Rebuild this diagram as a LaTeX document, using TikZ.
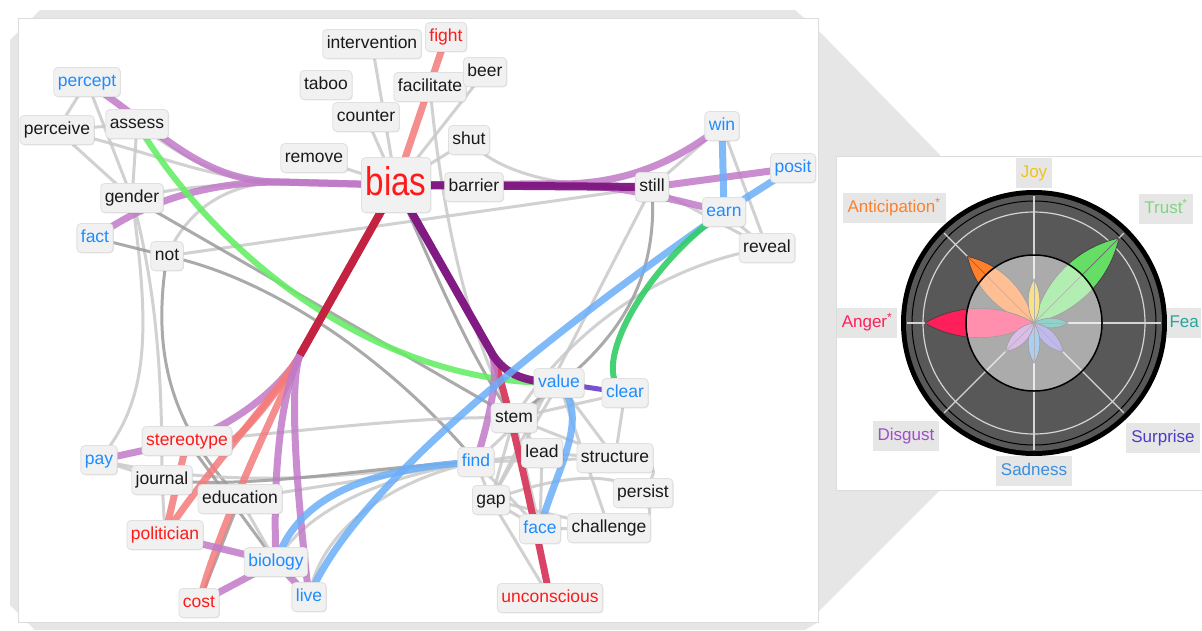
\documentclass[tikz,border=0pt]{standalone}
\usepackage{fontspec}
\usepackage{graphicx}
\setmainfont{Liberation Sans}
\usetikzlibrary{shadows}
\pgfdeclarelayer{back}
\pgfdeclarelayer{edges}
\pgfsetlayers{back,edges,main}
\definecolor{boxc}{HTML}{F1F1F1}
\definecolor{boxd}{HTML}{E0E0E0}
\definecolor{blk}{HTML}{1A1A1A}
\definecolor{blu}{HTML}{1E8CFF}
\definecolor{rd}{HTML}{FF1A1A}
\definecolor{lgc}{HTML}{C9C9C9}
\definecolor{dgc}{HTML}{9C9C9C}
\definecolor{plc}{HTML}{C07AC8}
\definecolor{pdc}{HTML}{7E1680}
\definecolor{salc}{HTML}{F47C7C}
\definecolor{crimc}{HTML}{C41E3A}
\definecolor{rosec}{HTML}{D83A5E}
\definecolor{grnc}{HTML}{66EE66}
\definecolor{grntc}{HTML}{33CC66}
\definecolor{bluec}{HTML}{6AAEF8}
\definecolor{vioc}{HTML}{6A3FC8}
\definecolor{framec}{HTML}{E6E6E6}
\definecolor{panelb}{HTML}{DCDCDC}
\definecolor{ringc}{HTML}{585858}
\definecolor{gridc}{HTML}{D4D4D4}
\definecolor{joyc}{HTML}{F0C419}
\definecolor{antc}{HTML}{FF7F2A}
\definecolor{trustc}{HTML}{7FD67F}
\definecolor{angc}{HTML}{FF1F5A}
\definecolor{fearc}{HTML}{26A69A}
\definecolor{disc}{HTML}{A04CC8}
\definecolor{surc}{HTML}{4B3CC8}
\definecolor{sadc}{HTML}{3A8EE0}
\definecolor{labbg}{HTML}{E6E6E6}
\newcommand\mypetal[4]{%
  \filldraw[fill=#4, draw=black!75, line width=0.7pt, rotate=#1]
    (0,0) .. controls ({0.3*#2},{1.3*#3}) and ({0.7*#2},{1.3*#3}) .. (#2,0)
          .. controls ({0.7*#2},{-1.3*#3}) and ({0.3*#2},{-1.3*#3}) .. (0,0) -- cycle;
  \draw[black!60, line width=0.7pt, rotate=#1] (0,0) -- (#2,0);
}
\begin{document}
\begin{tikzpicture}[x=1pt,y=-1pt,
  wb/.style={rounded corners=4pt, fill=boxc, draw=boxd, line width=0.8pt,
    inner xsep=4pt, inner ysep=0pt, minimum height=29pt, text height=13pt,
    text depth=3.5pt, font=\fontsize{17.5}{20}\selectfont,
    drop shadow={shadow xshift=0.8pt,shadow yshift=-0.8pt,opacity=0.12,fill=black}},
  wk/.style={wb,text=blk},
  wbl/.style={wb,text=blu},
  wr/.style={wb,text=rd},
  rlab/.style={fill=labbg, inner xsep=5pt, inner ysep=0pt, minimum height=30pt,
    text height=12.5pt, text depth=3.5pt, font=\fontsize{17}{20}\selectfont},
  eLG/.style={draw=lgc, line width=3pt, opacity=0.85},
  eDG/.style={draw=dgc, line width=3pt, opacity=0.85},
  ePL/.style={draw=plc, line width=7pt, opacity=0.85},
  ePD/.style={draw=pdc, line width=8pt, opacity=0.95},
  eSal/.style={draw=salc, line width=7pt, opacity=0.85},
  eCrim/.style={draw=crimc, line width=8pt, opacity=0.95},
  eRose/.style={draw=rosec, line width=7pt, opacity=0.95},
  eGrn/.style={draw=grnc, line width=6pt, opacity=0.9},
  eGrnT/.style={draw=grntc, line width=6pt, opacity=0.9},
  eBlu/.style={draw=bluec, line width=7pt, opacity=0.85},
  eVio/.style={draw=vioc, line width=5pt, opacity=0.9},
  spk/.style={draw=gridc, line width=1.2pt}
]
\useasboundingbox (0,0) rectangle (1202,630);
\clip (0,0) rectangle (1202,630);

% ---------- panels ----------
\begin{pgfonlayer}{back}
\fill[white] (0,0) rectangle (1202,630);
\fill[framec] (10,40) -- (40,10) -- (795,10) -- (818,30) -- (818,622) -- (805,630) -- (35,630) -- (10,605) -- cycle;
\fill[framec] (818,30) -- (940,155) -- (940,490) -- (818,612) -- cycle;
\filldraw[fill=white, draw=panelb, line width=1pt] (18,18) rectangle (818,622);
\filldraw[fill=white, draw=panelb, line width=1pt] (836,156) rectangle (1210,490);
\end{pgfonlayer}

% ---------- word nodes ----------
\node[wk]  (intervention) at (372,44) {intervention};
\node[wr]  (fight) at (446,37) {fight};
\node[wk]  (taboo) at (326,85) {taboo};
\node[wk]  (facilitate) at (430,87) {facilitate};
\node[wk]  (beer) at (485,72) {beer};
\node[wk]  (counter) at (366,117) {counter};
\node[wbl] (percept) at (87,82) {percept};
\node[wk]  (perceive) at (57,130) {perceive};
\node[wk]  (assess) at (137,124) {assess};
\node[wk]  (shut) at (469,140) {shut};
\node[wk]  (remove) at (314,158) {remove};
\node[wr, font=\fontsize{40}{44}\selectfont, minimum width=66pt, minimum height=55pt,
      text height=29pt, text depth=8pt] (bias) at (396,185) {\scalebox{0.83}[1]{bias}};
\node[wk]  (barrier) at (474,187) {barrier};
\node[wk]  (still) at (652,187) {still};
\node[wbl] (win) at (722,126) {win};
\node[wbl] (posit) at (793,168) {posit};
\node[wbl] (earn) at (724,212) {earn};
\node[wk]  (reveal) at (767,248) {reveal};
\node[wk]  (gender) at (132,198) {gender};
\node[wbl] (fact) at (95,238) {fact};
\node[wk]  (not) at (167,256) {not};
\node[wbl] (value) at (559,383) {value};
\node[wbl] (clear) at (625,393) {clear};
\node[wk]  (stem) at (514,418) {stem};
\node[wk]  (lead) at (542,453) {lead};
\node[wk]  (structure) at (615,458) {structure};
\node[wbl] (find) at (476,462) {find};
\node[wk]  (persist) at (643,493) {persist};
\node[wk]  (gap) at (491,500) {gap};
\node[wbl] (face) at (540,529) {face};
\node[wk]  (challenge) at (609,528) {challenge};
\node[wr]  (unconscious) at (550,598) {unconscious};
\node[wbl] (pay) at (99,460) {pay};
\node[wr]  (stereotype) at (187,441) {stereotype};
\node[wk]  (journal) at (162,480) {journal};
\node[wk]  (education) at (240,499) {education};
\node[wr]  (politician) at (165,535) {politician};
\node[wbl] (biology) at (276,562) {biology};
\node[wr]  (cost) at (199,603) {cost};
\node[wbl] (live) at (309,597) {live};

\coordinate (bnd) at (300,355);
\coordinate (bndb) at (490,350);
\coordinate (bndc) at (560,184);
\coordinate (bndd) at (280,182);

% ---------- edges ----------
\begin{pgfonlayer}{edges}
% gray
\draw[eLG] (intervention.center) -- (bias.center);
\draw[eLG] (counter.center) -- (bias.center);
\draw[eLG] (remove.center) -- (bias.center);
\draw[eLG] (beer.center) -- (bias.center);
\draw[eLG] (shut.center) -- (bias.center);
\draw[eLG] (facilitate.center) .. controls (445,250) and (480,360) .. (stem.center);
\draw[eLG] (shut.center) .. controls (500,178) and (580,190) .. (still.center);
\draw[eLG] (still.center) -- (win.center);
\draw[eLG] (win.center) -- (reveal.center);
\draw[eLG] (still.center) -- (reveal.center);
\draw[eLG] (earn.center) -- (reveal.center);
\draw[eLG] (not.center) -- (still.center);
\draw[eLG] (still.center) -- (gap.center);
\draw[eLG] (reveal.center) .. controls (660,265) and (570,330) .. (stem.center);
\draw[eLG] (percept.center) -- (perceive.center);
\draw[eLG] (percept.center) -- (gender.center);
\draw[eLG] (perceive.center) -- (assess.center);
\draw[eLG] (perceive.center) -- (gender.center);
\draw[eLG] (assess.center) -- (gender.center);
\draw[eLG] (perceive.center) .. controls (150,150) and (200,178) .. (bndd) -- (bias.center);
\draw[eLG] (assess.center) .. controls (175,150) and (210,179) .. (bndd) -- (bias.center);
\draw[eLG] (gender.center) .. controls (190,185) and (230,181) .. (bias.center);
\draw[eLG] (not.center) .. controls (185,215) and (220,184) .. (bndd) -- (bias.center);
\draw[eLG] (gender.center) .. controls (150,330) and (150,400) .. (pay.center);
\draw[eLG] (gender.center) .. controls (160,300) and (162,400) .. (journal.center);
\draw[eDG] (not.center) .. controls (150,360) and (175,430) .. (education.center);
\draw[eDG] (fact.center) -- (not.center);
\draw[eDG] (gender.center) -- (stem.center);
\draw[eDG] (not.center) .. controls (280,280) and (400,370) .. (find.center);
\draw[eLG] (pay.center) -- (journal.center);
\draw[eLG] (pay.center) .. controls (250,495) and (380,470) .. (find.center);
\draw[eDG] (journal.center) .. controls (260,490) and (380,465) .. (find.center);
\draw[eLG] (stereotype.center) .. controls (300,432) and (420,415) .. (stem.center);
\draw[eDG] (stereotype.center) -- (biology.center);
\draw[eLG] (education.center) -- (find.center);
\draw[eDG] (education.center) -- (cost.center);
\draw[eLG] (education.center) -- (biology.center);
\draw[eLG] (journal.center) -- (politician.center);
\draw[eLG] (biology.center) .. controls (300,520) and (360,480) .. (find.center);
\draw[eLG] (live.center) .. controls (320,530) and (390,480) .. (find.center);
\draw[eDG] (bias.center) .. controls (430,260) and (470,360) .. (stem.center);
\draw[eDG] (stem.center) -- (value.center);
\draw[eLG] (clear.center) -- (stem.center);
\draw[eLG] (stem.center) -- (lead.center);
\draw[eLG] (stem.center) -- (gap.center);
\draw[eLG] (stem.center) -- (structure.center);
\draw[eLG] (stem.center) -- (face.center);
\draw[eLG] (find.center) -- (gap.center);
\draw[eLG] (find.center) -- (lead.center);
\draw[eLG] (find.center) -- (structure.center);
\draw[eLG] (gap.center) -- (face.center);
\draw[eLG] (gap.center) -- (unconscious.center);
\draw[eLG] (gap.center) -- (challenge.center);
\draw[eLG] (face.center) -- (challenge.center);
\draw[eLG] (lead.center) -- (structure.center);
\draw[eLG] (lead.center) -- (face.center);
\draw[eLG] (structure.center) .. controls (660,465) .. (persist.center);
\draw[eLG] (challenge.center) .. controls (655,520) .. (persist.center);
\draw[eLG] (gap.center) .. controls (560,475) and (610,470) .. (persist.center);
\draw[eLG] (value.center) -- (structure.center);
\draw[eLG] (clear.center) -- (structure.center);
\draw[eLG] (value.center) -- (challenge.center);
\draw[eLG] (find.center) -- (face.center);
\draw[eDG] (still.center) .. controls (660,300) and (600,360) .. (stem.center);
\draw[eLG] (value.center) -- (gap.center);
\draw[eLG] (find.center) -- (value.center);
% coloured
\draw[eSal] (fight.center) -- (bias.center);
\draw[ePL] (percept.center) .. controls (160,130) and (200,182) .. (bndd) -- (bias.center);
\draw[ePL] (fact.center) .. controls (140,205) and (200,182) .. (bndd) -- (bias.center);
\draw[eGrn] (assess.center) .. controls (220,260) and (380,385) .. (value.center);
\draw[ePL] (bias.center) -- (bnd) .. controls (286,380) and (245,420) .. (stereotype.center);
\draw[eSal] (bias.center) -- (bnd) .. controls (286,380) and (255,422) .. (stereotype.east);
\draw[eSal] (bias.center) -- (bnd) .. controls (286,382) and (200,480) .. (politician.center);
\draw[eSal] (bias.center) -- (bnd) .. controls (288,385) and (220,520) .. (cost.center);
\draw[ePL] (bias.center) -- (bnd) .. controls (284,385) and (272,460) .. (biology.center);
\draw[ePL] (bias.center) -- (bnd) .. controls (290,380) and (294,470) .. (live.center);
\draw[eCrim] (bias.center) -- (bnd);
\draw[eSal] (stereotype.center) -- (politician.center);
\draw[ePL] (politician.center) -- (biology.center);
\draw[ePL] (cost.center) -- (biology.center);
\draw[ePL] (biology.center) -- (live.center);
\draw[ePL] (pay.center) -- (stereotype.center);
\draw[eRose] (bias.center) -- (bndb) .. controls (502,372) and (530,500) .. (unconscious.center);
\draw[ePL] (bias.center) -- (bndb) .. controls (500,368) and (492,410) .. (find.center);
\draw[ePD] (bias.center) -- (bndb) .. controls (502,372) and (520,382) .. (value.center);
\draw[ePL] (bias.center) -- (bndc) .. controls (640,184) and (690,150) .. (win.center);
\draw[ePL] (bias.center) -- (bndc) .. controls (620,186) and (660,196) .. (earn.center);
\draw[ePD] (bias.center) -- (still.center);
\draw[ePL] (still.center) -- (posit.center);
\draw[eBlu] (win.center) -- (earn.center);
\draw[eBlu] (earn.center) -- (posit.center);
\draw[eBlu] (earn.center) .. controls (620,285) and (360,470) .. (live.center);
\draw[eBlu] (find.center) .. controls (380,468) and (300,490) .. (biology.center);
\draw[eBlu] (value.center) .. controls (592,420) and (555,470) .. (face.center);
\draw[eGrnT] (earn.center) .. controls (650,260) and (585,370) .. (clear.center);
\draw[eVio] (value.center) -- (clear.center);
\end{pgfonlayer}

% ---------- emotion wheel ----------
\begin{scope}[shift={(1034,323)}]
  \fill[black] (0,0) circle[radius=133];
  \fill[ringc] (0,0) circle[radius=128];
  \draw[black, line width=1pt] (0,0) circle[radius=122];
  \draw[gridc, line width=1.2pt] (0,0) circle[radius=111];
  \foreach \a in {0,45,...,315} \draw[spk] (0,0) -- (\a:127);
  \mypetal{135}{94}{14}{antc}
  \mypetal{45}{120}{18}{trustc!80!green}
  \mypetal{180}{109}{15}{angc}
  \mypetal{90}{44}{6}{joyc}
  \mypetal{0}{34}{5}{fearc}
  \mypetal{-45}{41}{7}{surc!70!white}
  \mypetal{-90}{40}{6}{sadc!85!white}
  \mypetal{-135}{40}{7}{disc!75!white}
  \filldraw[fill=white, fill opacity=0.5, draw=black, line width=1.5pt] (0,0) circle[radius=68];
\end{scope}

\node[rlab, text=joyc] (joy) at (1034,173) {Joy};
\node[rlab, text=antc] (anticipation) at (894,208) {Anticipation\textsuperscript{*}};
\node[rlab, text=trustc] (trust) at (1166,209) {Trust\textsuperscript{*}};
\node[rlab, text=angc] (anger) at (867,323) {Anger\textsuperscript{*}};
\node[rlab, text=fearc, anchor=east, inner xsep=2.5pt] (fear) at (1201.5,323) {Fea};
\node[rlab, text=disc] (disgust) at (906,436) {Disgust};
\node[rlab, text=surc] (surprise) at (1163,438) {Surprise};
\node[rlab, text=sadc] (sadness) at (1034,471) {Sadness};
\end{tikzpicture}
\end{document}
